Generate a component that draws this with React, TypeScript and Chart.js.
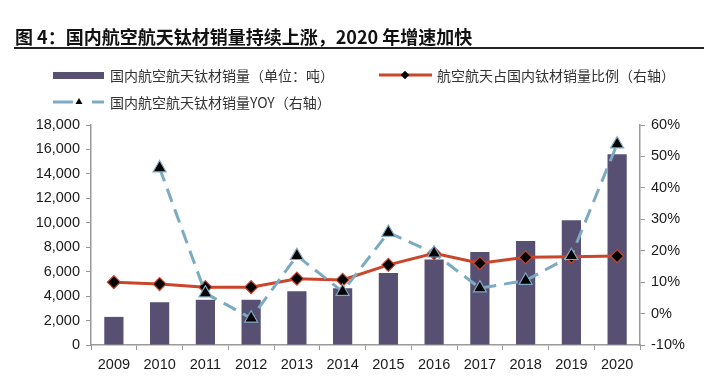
import React, { useEffect, useRef } from "react";
import { Chart, registerables } from "chart.js";

Chart.register(...registerables);

const categories = ["2009", "2010", "2011", "2012", "2013", "2014", "2015", "2016", "2017", "2018", "2019", "2020"];
const salesTons = [2300, 3500, 3700, 3700, 4400, 4650, 5900, 7000, 7600, 8500, 10200, 15600];
const aeroSharePct = [10.0, 9.4, 8.4, 8.4, 11.1, 10.7, 15.5, 19.2, 16.0, 17.9, 18.1, 18.3];
const yoyPct = [null, 46.3, 6.5, -1.5, 18.4, 7.0, 25.8, 19.2, 8.1, 10.5, 18.4, 53.9];
const leftTicks = { min: 0, max: 18000, step: 2000 };
const rightTicks = { min: -10, max: 60, step: 10 };

const titleText = "图 4：国内航空航天钛材销量持续上涨，2020 年增速加快";
const legendBar = "国内航空航天钛材销量（单位：吨）";
const legendShare = "航空航天占国内钛材销量比例（右轴）";
const legendYoy = "国内航空航天钛材销量YOY（右轴）";

const BAR = "#575073";
const RED = "#C9452B";
const BLUE = "#7DAAC3";
const AXIS = "#9a9a9a";
const TXT = "#1a1a1a";
const tickFont = { family: "Liberation Sans, Arial, sans-serif", size: 14.5 };

export default function App() {
  const ref = useRef<HTMLCanvasElement>(null);
  useEffect(() => {
    if (!ref.current) return;
    const chart = new Chart(ref.current, {
      type: "bar",
      data: {
        labels: categories,
        datasets: [
          {
            type: "line",
            label: legendYoy,
            data: yoyPct,
            yAxisID: "y1",
            borderColor: BLUE,
            borderWidth: 3,
            borderDash: [14, 8],
            pointStyle: "triangle",
            pointRadius: 7.5,
            pointBackgroundColor: "#000",
            pointBorderColor: BLUE,
            pointBorderWidth: 1.2,
            spanGaps: true,
            order: 1,
          } as any,
          {
            type: "line",
            label: legendShare,
            data: aeroSharePct,
            yAxisID: "y1",
            borderColor: RED,
            borderWidth: 3,
            pointStyle: "rectRot",
            pointRadius: 6.5,
            pointBackgroundColor: "#000",
            pointBorderColor: RED,
            pointBorderWidth: 1.2,
            order: 2,
          } as any,
          {
            type: "bar",
            label: legendBar,
            data: salesTons,
            yAxisID: "y",
            backgroundColor: BAR,
            barPercentage: 0.42,
            categoryPercentage: 1,
            order: 3,
          } as any,
        ],
      },
      options: {
        animation: false,
        responsive: false,
        devicePixelRatio: 1,
        layout: { padding: { top: 125, left: 0, right: 0, bottom: 0 } },
        plugins: { legend: { display: false }, title: { display: false }, tooltip: { enabled: false } },
        scales: {
          x: {
            type: "category",
            offset: true,
            grid: { display: true, drawOnChartArea: false, drawTicks: true, tickLength: 5, offset: true, color: AXIS },
            border: { display: true, color: AXIS, width: 1.5 },
            ticks: { font: tickFont, color: TXT, padding: 6, maxRotation: 0 },
            afterFit: (s: any) => { s.height = 31; },
          },
          y: {
            position: "left",
            min: leftTicks.min,
            max: leftTicks.max,
            grid: { display: true, drawOnChartArea: false, drawTicks: true, tickLength: 5, color: AXIS },
            border: { display: true, color: AXIS, width: 1.5 },
            ticks: {
              stepSize: leftTicks.step,
              font: tickFont,
              color: TXT,
              padding: 6,
              callback: (v: any) => Number(v).toLocaleString("en-US"),
            },
            afterFit: (s: any) => { s.width = 91; },
          },
          y1: {
            position: "right",
            min: rightTicks.min,
            max: rightTicks.max,
            grid: { display: true, drawOnChartArea: false, drawTicks: true, tickLength: 5, color: AXIS },
            border: { display: true, color: AXIS, width: 1.5 },
            ticks: {
              stepSize: rightTicks.step,
              font: tickFont,
              color: TXT,
              padding: 6,
              callback: (v: any) => `${v}%`,
            },
            afterFit: (s: any) => { s.width = 64; },
          },
        },
      } as any,
    });
    return () => chart.destroy();
  }, []);

  const legendTextStyle: React.CSSProperties = {
    position: "absolute",
    fontFamily: "'Noto Sans CJK SC', sans-serif",
    fontSize: 14,
    color: "#333",
    lineHeight: "20px",
    whiteSpace: "nowrap",
  };

  return (
    <div style={{ position: "fixed", left: 0, top: 0, width: 704, height: 376, background: "#fff", overflow: "hidden" }}>
      <canvas ref={ref} width={704} height={376} style={{ position: "absolute", left: 0, top: 0, width: 704, height: 376 }} />
      <div
        style={{
          position: "absolute",
          left: 15,
          top: 24,
          fontFamily: "'Noto Sans CJK SC', sans-serif",
          fontWeight: 700,
          fontSize: 18,
          lineHeight: "24px",
          color: "#111",
          whiteSpace: "nowrap",
        }}
      >
        {titleText}
      </div>
      <div style={{ position: "absolute", left: 14, top: 47, width: 690, height: 1.5, background: "#222" }} />
      <svg width={704} height={120} style={{ position: "absolute", left: 0, top: 0 }}>
        <rect x={53} y={72} width={51} height={7} fill={BAR} />
        <line x1={379} y1={75} x2={432} y2={75} stroke={RED} strokeWidth={3} />
        <rect x={402} y={72} width={6} height={6} fill="#000" transform="rotate(45 405 75)" />
        <line x1={53} y1={102} x2={73} y2={102} stroke={BLUE} strokeWidth={3} />
        <line x1={92} y1={102} x2={104} y2={102} stroke={BLUE} strokeWidth={3} />
        <polygon points="79,98 82.5,104 75.5,104" fill="#000" />
      </svg>
      <div style={{ ...legendTextStyle, left: 110, top: 65 }}>{legendBar}</div>
      <div style={{ ...legendTextStyle, left: 437, top: 65 }}>{legendShare}</div>
      <div style={{ ...legendTextStyle, left: 110, top: 92 }}>{legendYoy}</div>
    </div>
  );
}
